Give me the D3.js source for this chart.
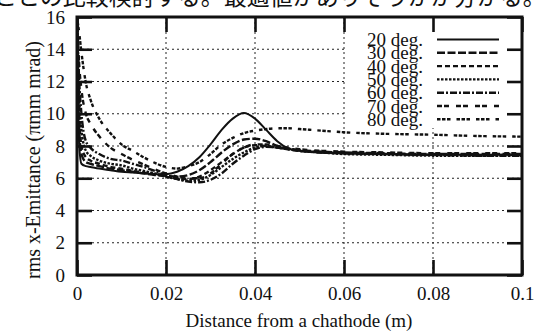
<!DOCTYPE html>
<html>
<head>
<meta charset="utf-8">
<script src="https://cdn.jsdelivr.net/npm/d3@7"></script>
<style>
  body { margin: 0; background: #fff; }
  svg { display: block; }
  text { font-family: "Liberation Serif", "Times New Roman", serif; fill: #111; }
</style>
</head>
<body>
<div id="chart"></div>
<script>
// distance from cathode (m), shared by all series
const xs = [0, 0.0005, 0.001, 0.002, 0.003, 0.005, 0.0075, 0.01, 0.0125, 0.015, 0.0175, 0.02,
  0.0225, 0.025, 0.0275, 0.03, 0.0325, 0.035, 0.0375, 0.04, 0.0425, 0.045, 0.0475, 0.05,
  0.055, 0.06, 0.07, 0.08, 0.09, 0.1];

const deg20 = [16, 8, 6.9, 6.75, 6.7, 6.6, 6.5, 6.4, 6.35, 6.3, 6.25, 6.25,
  6.4, 6.75, 7.3, 8.1, 9.0, 9.7, 10.05, 9.7, 9.0, 8.3, 7.85, 7.7,
  7.6, 7.55, 7.5, 7.45, 7.45, 7.45];
const deg30 = [16, 9, 7.5, 7.0, 6.9, 6.75, 6.6, 6.5, 6.4, 6.3, 6.2, 6.15,
  6.1, 6.2, 6.5, 7.0, 7.6, 8.1, 8.4, 8.45, 8.3, 8.0, 7.85, 7.75,
  7.65, 7.6, 7.55, 7.5, 7.5, 7.5];
const deg40 = [16, 10, 8, 7.3, 7.1, 6.9, 6.7, 6.6, 6.45, 6.35, 6.25, 6.1,
  6.0, 5.95, 6.1, 6.5, 7.0, 7.5, 7.9, 8.05, 8.0, 7.9, 7.8, 7.7,
  7.6, 7.55, 7.5, 7.45, 7.45, 7.45];
const deg50 = [16, 11, 9, 7.7, 7.4, 7.1, 6.9, 6.8, 6.6, 6.45, 6.3, 6.1,
  5.95, 5.85, 5.9, 6.2, 6.7, 7.2, 7.6, 7.9, 8.0, 7.9, 7.8, 7.7,
  7.6, 7.5, 7.45, 7.4, 7.4, 7.4];
const deg60 = [16, 12, 10, 8.3, 7.9, 7.5, 7.2, 7.1, 6.9, 6.7, 6.45, 6.2,
  5.95, 5.8, 5.75, 5.9, 6.3, 6.9, 7.4, 7.8, 7.95, 7.9, 7.8, 7.7,
  7.6, 7.55, 7.5, 7.45, 7.4, 7.4];
const deg70 = [16, 13, 11.5, 10.0, 9.4, 8.6, 7.9, 7.5, 7.15, 6.85, 6.55, 6.3,
  6.1, 6.0, 6.0, 6.3, 6.9, 7.5, 7.9, 8.1, 8.1, 8.0, 7.9, 7.8,
  7.7, 7.65, 7.6, 7.55, 7.55, 7.55];
const deg80 = [16, 15, 13.8, 11.9, 10.9, 9.7, 8.8, 8.1, 7.7, 7.3, 6.95, 6.7,
  6.6, 6.75, 7.0, 7.5, 8.1, 8.5, 8.8, 8.95, 9.05, 9.1, 9.1, 9.05,
  8.95, 8.85, 8.75, 8.7, 8.62, 8.58];

const labels = ["20 deg.", "30 deg.", "40 deg.", "50 deg.", "60 deg.", "70 deg.", "80 deg."];
const dashes = [null, "8,2.5", "5,3", "2.5,1.5", "7,2,2,2", "5,2,5,7", "3.5,1.5,3.5,1.5,3.5,6"];
const series = [deg20, deg30, deg40, deg50, deg60, deg70, deg80];

const xTicks = [0, 0.02, 0.04, 0.06, 0.08, 0.1];
const yTicks = [0, 2, 4, 6, 8, 10, 12, 14, 16];

const W = 541, H = 332;
const mLeft = 77, mRight = 522, mTop = 17, mBottom = 275;

const svg = d3.select("#chart").append("svg").attr("width", W).attr("height", H);

// cut-off line of text above the figure
svg.append("text")
  .attr("x", -6).attr("y", 5)
  .style("font-family", "'Noto Sans CJK JP', sans-serif")
  .style("font-size", "23px")
  .text("ことの比較検討する。最適値がありそうかが分かる。");

const x = d3.scaleLinear().domain([0, 0.1]).range([mLeft, mRight]);
const y = d3.scaleLinear().domain([0, 16]).range([mBottom, mTop]);

// grid
const grid = svg.append("g").attr("stroke", "#222").attr("stroke-width", 1).attr("stroke-dasharray", "2,3");
grid.selectAll("line.v").data(xTicks.slice(1, -1)).enter().append("line")
  .attr("x1", d => x(d)).attr("x2", d => x(d)).attr("y1", mTop).attr("y2", mBottom);
grid.selectAll("line.h").data(yTicks.slice(1, -1)).enter().append("line")
  .attr("x1", mLeft).attr("x2", mRight).attr("y1", d => y(d)).attr("y2", d => y(d));

// curves
svg.append("clipPath").attr("id", "clip").append("rect")
  .attr("x", mLeft).attr("y", mTop).attr("width", mRight - mLeft).attr("height", mBottom - mTop);
const line = d3.line().x((d, i) => x(xs[i])).y(d => y(d)).curve(d3.curveMonotoneX);

// legend background hides grid under it
svg.append("rect").attr("x", 346).attr("y", mTop + 1).attr("width", mRight - 347).attr("height", 110).attr("fill", "#fff");

svg.append("g").attr("clip-path", "url(#clip)")
  .selectAll("path").data(series).enter().append("path")
  .attr("d", line)
  .attr("fill", "none")
  .attr("stroke", "#111")
  .attr("stroke-width", (d, i) => i == 0 ? 2 : 2.4)
  .attr("stroke-dasharray", (d, i) => dashes[i]);

// axes with inward ticks on all sides
const fmt = d => String(d);
const axB = svg.append("g").attr("transform", "translate(0," + mBottom + ")")
  .call(d3.axisBottom(x).tickValues(xTicks).tickFormat(fmt).tickSize(-15).tickPadding(12));
const axT = svg.append("g").attr("transform", "translate(0," + mTop + ")")
  .call(d3.axisTop(x).tickValues(xTicks).tickFormat("").tickSize(-15));
const axL = svg.append("g").attr("transform", "translate(" + mLeft + ",0)")
  .call(d3.axisLeft(y).tickValues(yTicks).tickSize(-15).tickPadding(12));
const axR = svg.append("g").attr("transform", "translate(" + mRight + ",0)")
  .call(d3.axisRight(y).tickValues(yTicks).tickFormat("").tickSize(-15));
[axB, axT, axL, axR].forEach(a => {
  a.select(".domain").remove();
  a.selectAll(".tick line").attr("stroke", "#111").attr("stroke-width", 2.6);
  a.selectAll("text").style("font-family", "'Liberation Serif', serif").style("font-size", "19px").attr("fill", "#111");
});

svg.append("rect").attr("x", mLeft).attr("y", mTop).attr("width", mRight - mLeft).attr("height", mBottom - mTop)
  .attr("fill", "none").attr("stroke", "#111").attr("stroke-width", 3);

// legend
const lg = svg.append("g");
labels.forEach((lab, i) => {
  const ly = 39.5 + i * 13.3;
  lg.append("text").attr("x", 423).attr("y", ly + 6.5).attr("text-anchor", "end")
    .style("font-size", "19px").text(lab);
  lg.append("line").attr("x1", 437).attr("x2", 499).attr("y1", ly).attr("y2", ly)
    .attr("stroke", "#111").attr("stroke-width", i == 0 ? 2 : 2.4)
    .attr("stroke-dasharray", dashes[i]);
});

// axis titles
svg.append("text").attr("x", 299).attr("y", 327).attr("text-anchor", "middle")
  .style("font-size", "19px").text("Distance from a chathode (m)");
svg.append("text").attr("transform", "translate(40,160) rotate(-90)").attr("text-anchor", "middle")
  .attr("textLength", 238).attr("lengthAdjust", "spacingAndGlyphs")
  .style("font-size", "20px").text("rms x-Emittance (πmm mrad)");
</script>
</body>
</html>
